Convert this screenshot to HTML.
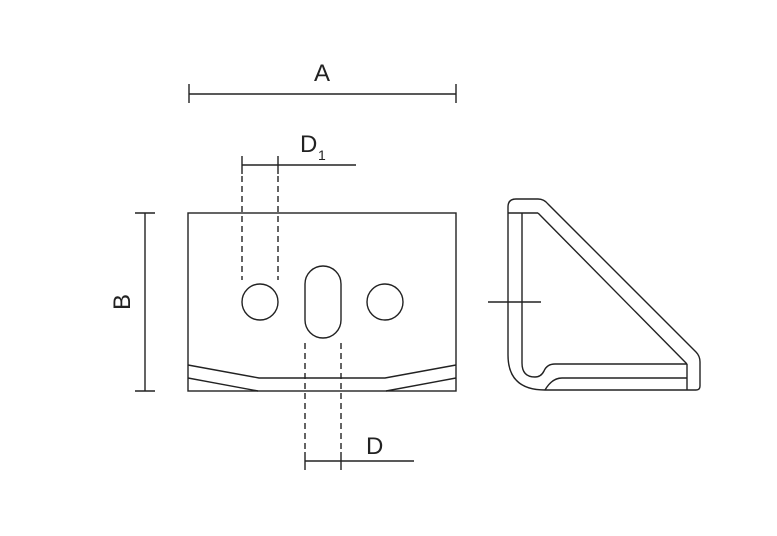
<!DOCTYPE html>
<html><head><style>body{margin:0;background:#fff}svg{display:block}text{font-family:"Liberation Sans",sans-serif;fill:#222}</style></head><body>
<svg width="777" height="536" viewBox="0 0 777 536" xmlns="http://www.w3.org/2000/svg">
<g stroke="#222" stroke-width="1.4" fill="none">
<line x1="189" y1="94" x2="456" y2="94"/><line x1="189" y1="84" x2="189" y2="103"/><line x1="456" y1="84" x2="456" y2="103"/>
<line x1="145" y1="213" x2="145" y2="391"/><line x1="135" y1="213" x2="155" y2="213"/><line x1="135" y1="391" x2="155" y2="391"/>
<line x1="242" y1="165" x2="356" y2="165"/><line x1="242" y1="156" x2="242" y2="174"/><line x1="278" y1="156" x2="278" y2="174"/>
<line x1="305" y1="461" x2="414" y2="461"/><line x1="305" y1="452" x2="305" y2="470"/><line x1="341" y1="452" x2="341" y2="470"/>
<g stroke-dasharray="6,4">
<line x1="242" y1="176" x2="242" y2="280"/><line x1="278" y1="176" x2="278" y2="280"/>
<line x1="305" y1="343" x2="305" y2="452"/><line x1="341" y1="343" x2="341" y2="452"/>
</g>
<rect x="188" y="213" width="268" height="178"/>
<circle cx="260" cy="302" r="18"/><circle cx="385" cy="302" r="18"/>
<rect x="305" y="266" width="36" height="72" rx="18"/>
<polyline points="188,365 259,378 385,378 456,365"/>
<line x1="188" y1="378" x2="258" y2="391"/><line x1="386" y1="391" x2="456" y2="378"/>
<path d="M508,207 Q508,199 516,199 L538,199 Q544,199 548,204 L696,352 Q700,356 700,362 L700,386 Q700,390 696,390 L545,390 Q508,390 508,355 Z"/>
<line x1="508" y1="213" x2="538" y2="213"/>
<path d="M522,213 L522,363 Q522,377 535,377 Q541,377 544,371 Q547,364 555,364 L687,364"/>
<line x1="538" y1="213" x2="687" y2="364"/>
<path d="M545,390 Q552,378 562,378 L687,378"/>
<line x1="687" y1="364" x2="687" y2="390"/>
<line x1="488" y1="302" x2="541" y2="302"/>
</g>
<text x="322" y="81" font-size="24" text-anchor="middle">A</text>
<text x="130" y="302" font-size="24" text-anchor="middle" transform="rotate(-90 130 302)">B</text>
<text x="300" y="152" font-size="24">D</text><text x="318" y="160" font-size="14">1</text>
<text x="366" y="454" font-size="24">D</text>
</svg>
</body></html>
